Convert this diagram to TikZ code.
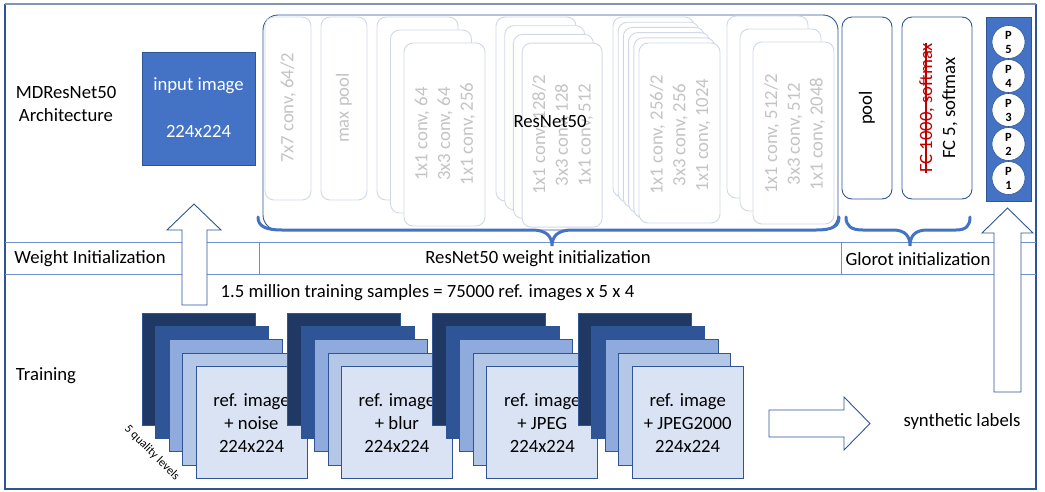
\documentclass[tikz,border=0pt]{standalone}
\usepackage{fontspec}
\setmainfont{Carlito}
\definecolor{accent}{RGB}{68,114,196}
\definecolor{darkblue}{RGB}{47,85,151}
\definecolor{navy}{RGB}{32,56,100}
\definecolor{midblue}{RGB}{47,85,151}
\definecolor{lightblue}{RGB}{143,170,220}
\definecolor{paleblue}{RGB}{180,199,231}
\definecolor{faintblue}{RGB}{218,227,243}
\definecolor{bandline}{RGB}{111,143,207}
\definecolor{topline}{RGB}{132,151,176}
\definecolor{ghostline}{RGB}{208,216,232}
\definecolor{ghosttext}{RGB}{196,196,196}
\definecolor{strikered}{RGB}{192,0,0}
\tikzset{
  big/.style={font=\fontsize{18.7}{22.8}\selectfont},
  ghostbox/.style={draw=ghostline, fill=white, rounded corners=9pt, line width=0.9pt},
  ghosttxt/.style={big, text=ghosttext, rotate=90, align=center, inner sep=0pt},
  layerbox/.style={draw=darkblue, fill=white, rounded corners=10pt, line width=0.9pt},
  brace/.style={draw=accent, line width=3pt, line cap=round},
  blockarrow/.style={draw=darkblue, fill=white, line width=0.9pt, line join=miter},
  imgbox/.style={draw=darkblue, line width=0.8pt},
  ptxt/.style={font=\fontsize{12.5}{14}\selectfont\bfseries, align=center, inner sep=0pt},
}
\begin{document}
\begin{tikzpicture}[x=1pt,y=-1pt]
\useasboundingbox (0,0) rectangle (1045,491);
\fill[white] (0,0) rectangle (1045,491);

% outer frame
\draw[darkblue, line width=1.3pt] (5,4) -- (5,489) -- (1036,489) -- (1036,4);
\draw[topline, line width=1.6pt] (5,4) -- (1036,4);

% weight initialization band
\draw[bandline, line width=1pt] (5,242) -- (1036,242);
\draw[bandline, line width=1pt] (5,274) -- (1036,274);
\draw[bandline, line width=1pt] (259,242) -- (259,274);
\draw[bandline, line width=1pt] (841,242) -- (841,274);

% row labels
\node[big, align=center] (arch) at (66,104) {MDResNet50\\Architecture};
\node[big] (wi) at (90,259) {Weight Initialization};
\node[big] (tr) at (46,376) {Training};
\node[big] (rwi) at (538,259) {ResNet50 weight initialization};
\node[big] (gi) at (918,259) {Glorot initialization};

% input image
\node[draw=darkblue, fill=accent, minimum width=113pt, minimum height=113pt, inner sep=0pt] (inp) at (198.5,108.5) {};
\node[big, text=white] (inpt1) at (198.5,86) {input image};
\node[big, text=white] (inpt2) at (198.5,131) {224x224};

% ResNet50 container
\draw[darkblue, line width=0.9pt, rounded corners=15pt] (263,230) rectangle (838,15);

% single blocks
\draw[ghostbox] (265,17) rectangle (311,200);
\node[ghosttxt] (c7) at (288,108) {7x7 conv, 64/2};
\draw[ghostbox] (321,17) rectangle (367,200);
\node[ghosttxt] (mp) at (344,108) {max pool};

% stage 2 (3 boxes)
\foreach \i in {0,1,2} {
  \draw[ghostbox] ({377+13.5*\i},{17+13*\i}) rectangle ++(81,183);
}
\node[ghosttxt] (s2) at (445,134) {1x1 conv, 64\\3x3 conv, 64\\1x1 conv, 256};

% stage 3 (4 boxes)
\foreach \i in {0,1,2,3} {
  \draw[ghostbox] ({496+8.7*\i},{17+8.7*\i}) rectangle ++(80,184);
}
\node[ghosttxt] (s3) at (562.5,135) {1x1 conv, 128/2\\3x3 conv, 128\\1x1 conv, 512};

% stage 4 (6 boxes)
\foreach \i in {0,...,5} {
  \draw[ghostbox] ({613+5.2*\i},{17+5.2*\i}) rectangle ++(81,180);
}
\node[ghosttxt] (s4) at (680,135) {1x1 conv, 256/2\\3x3 conv, 256\\1x1 conv, 1024};

% stage 5 (3 boxes)
\foreach \i in {0,1,2} {
  \draw[ghostbox] ({727+13*\i},{16+13*\i}) rectangle ++(81,182);
}
\node[ghosttxt] (s5) at (794.5,134) {1x1 conv, 512/2\\3x3 conv, 512\\1x1 conv, 2048};

\node[big] (rn) at (550,121) {ResNet50};

% pool and FC
\draw[layerbox] (842,17) rectangle (892,199);
\node[big, rotate=90] (pool) at (867,108) {pool};
\draw[layerbox] (902,17) rectangle (972,199);
\node[big, rotate=90, text=strikered, inner sep=0pt] (fcold) at (927,108) {FC 1000, softmax};
\draw[strikered, line width=1.3pt] ([xshift=-1pt]fcold.west) -- ([xshift=-1pt]fcold.east);
\node[big, rotate=90] (fcnew) at (950,108) {FC 5, softmax};

% output column
\node[draw=darkblue, fill=accent, minimum width=45pt, minimum height=184pt, inner sep=0pt] (out) at (1008.5,109) {};
\foreach \n/\y in {5/42,4/76,3/110,2/144,1/178} {
  \node[circle, draw=darkblue, fill=white, minimum size=33pt, inner sep=0pt, line width=0.6pt] (p\n) at (1008.5,\y) {};
  \node[ptxt] (pt\n) at (1008.5,\y) {P\\\n};
}

% braces
\draw[brace] (258,217) .. controls (258,226) and (265,230) .. (282,230) -- (532,230)
  .. controls (546,230) and (552,236) .. (552,246)
  .. controls (552,236) and (558,230) .. (572,230) -- (816,230)
  .. controls (833,230) and (839,226) .. (839,217);
\draw[brace] (846,217) .. controls (846,226) and (851,230) .. (863,230) -- (893,230)
  .. controls (905,230) and (910,236) .. (910,246)
  .. controls (910,236) and (915,230) .. (927,230) -- (956,230)
  .. controls (966,230) and (970,226) .. (970,217);

% block arrows
\draw[blockarrow] (194,204) -- (221,230) -- (207,230) -- (207,305) -- (182,305) -- (182,230) -- (167,230) -- cycle;
\draw[blockarrow] (1007.5,208) -- (1033,233) -- (1021,233) -- (1021,392) -- (994,392) -- (994,233) -- (982,233) -- cycle;
\draw[blockarrow] (870,423.5) -- (844,450) -- (844,437) -- (769,437) -- (769,410) -- (844,410) -- (844,397) -- cycle;

% training samples
\node[big] (samples) at (427.5,293) {1.5 million training samples = 75000 ref. images x 5 x 4};
\foreach \k/\lab in {0/{+ noise},1/{+ blur},2/{+ JPEG},3/{+ JPEG2000}} {
  \begin{scope}[xshift={145.4*\k}]
    \fill[navy] (142,313) rectangle ++(113,112);
    \draw[imgbox] (142,313) rectangle ++(113,112);
    \filldraw[imgbox, fill=midblue] (155.5,326.3) rectangle ++(113,112);
    \filldraw[imgbox, fill=lightblue] (169,339.6) rectangle ++(113,112);
    \filldraw[imgbox, fill=paleblue] (182.5,352.9) rectangle ++(112,112);
    \filldraw[imgbox, fill=faintblue] (196,366.2) rectangle ++(111,112);
    \node[big, align=center] (img\k) at (251.5,423) {ref. image\\\lab\\224x224};
  \end{scope}
}
\node[font=\fontsize{12}{14}\selectfont, rotate=-45] (ql) at (152,453) {5 quality levels};

\node[big] (syn) at (962,422) {synthetic labels};
\end{tikzpicture}
\end{document}
